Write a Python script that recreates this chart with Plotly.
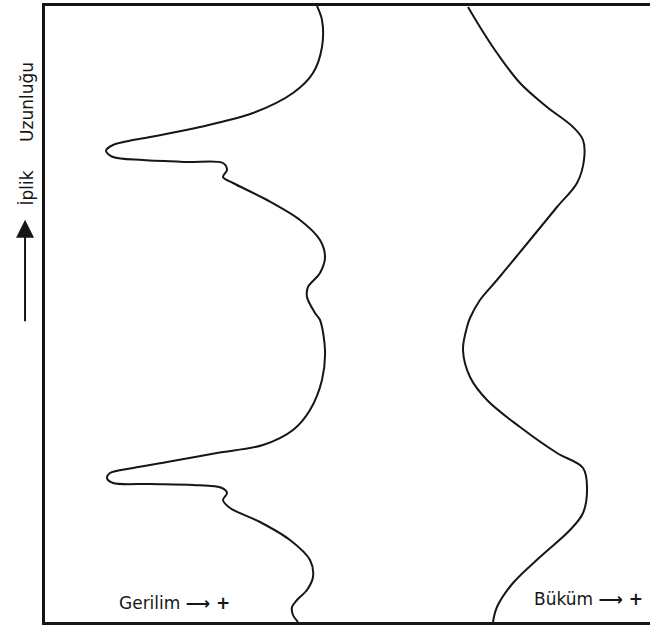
import plotly.graph_objects as go

# Tension (Gerilim) curve: tension value vs yarn length
tension_len = [616, 602, 575, 549, 529, 509, 495, 485, 477, 471, 465, 462, 460, 459, 452, 445, 439,
               422, 402, 382, 365, 349, 335, 325, 309, 302, 272, 242, 212, 192, 177, 169, 160, 154,
               149, 144, 139, 138, 137, 134, 129, 122, 114, 100, 82, 62, 45, 32, 22, 15, 7, 0]
tension_val = [272, 277, 277, 268, 248, 208, 155, 105, 68, 61, 68, 98, 142, 178, 182, 178, 188,
               222, 255, 275, 280, 275, 263, 262, 270, 275, 280, 277, 265, 248, 218, 172, 122, 88,
               65, 62, 68, 105, 148, 177, 182, 178, 185, 215, 245, 265, 268, 262, 252, 247, 248, 253]

# Twist (Büküm) curve: twist value vs yarn length
twist_len = [615, 595, 569, 539, 515, 495, 482, 462, 439, 415, 382, 342, 322, 304, 295, 272, 245,
             222, 195, 169, 154, 135, 109, 92, 65, 39, 15, 0]
twist_val = [423, 435, 452, 475, 502, 528, 538, 539, 532, 512, 485, 452, 435, 425, 422, 418, 425,
             442, 475, 512, 538, 542, 538, 525, 495, 468, 452, 448]

ink = "#161616"
fig = go.Figure()
fig.add_trace(go.Scatter(x=tension_val, y=tension_len, mode="lines",
                         line=dict(color=ink, width=2, shape="spline", smoothing=0.9),
                         showlegend=False, hoverinfo="skip"))
fig.add_trace(go.Scatter(x=twist_val, y=twist_len, mode="lines",
                         line=dict(color=ink, width=2, shape="spline", smoothing=1.0),
                         showlegend=False, hoverinfo="skip"))

font = dict(family="DejaVu Sans, sans-serif", size=17, color=ink)
fig.add_annotation(x=72, y=19, xref="x", yref="y", text="Gerilim <b>⟶ +</b>", showarrow=False,
                   xanchor="left", yanchor="middle", font=font)
fig.add_annotation(x=487, y=23, xref="x", yref="y", text="Büküm <b>⟶ +</b>", showarrow=False,
                   xanchor="left", yanchor="middle", font=font)
fig.add_annotation(x=-0.03, y=0.844, xref="paper", yref="paper", text="Uzunluğu", showarrow=False,
                   textangle=-90, xanchor="center", yanchor="middle", font=font)
fig.add_annotation(x=-0.03, y=0.705, xref="paper", yref="paper", text="İplik", showarrow=False,
                   textangle=-90, xanchor="center", yanchor="middle", font=font)
fig.add_annotation(x=-0.033, y=0.653, xref="paper", yref="paper", text="", showarrow=True,
                   ax=0, ay=103, arrowhead=2, arrowsize=1.8, arrowwidth=2, arrowcolor=ink)

fig.update_xaxes(range=[0, 605], showline=True, mirror=True, linecolor=ink, linewidth=2.5,
                 showgrid=False, zeroline=False, showticklabels=False, ticks="")
fig.update_yaxes(range=[0, 616], showline=True, mirror=False, linecolor=ink, linewidth=2.5,
                 showgrid=False, zeroline=False, showticklabels=False, ticks="")
fig.update_layout(width=650, height=626, margin=dict(l=45, r=0, t=6, b=4),
                  paper_bgcolor="white", plot_bgcolor="white")
fig.write_html("out.html")
